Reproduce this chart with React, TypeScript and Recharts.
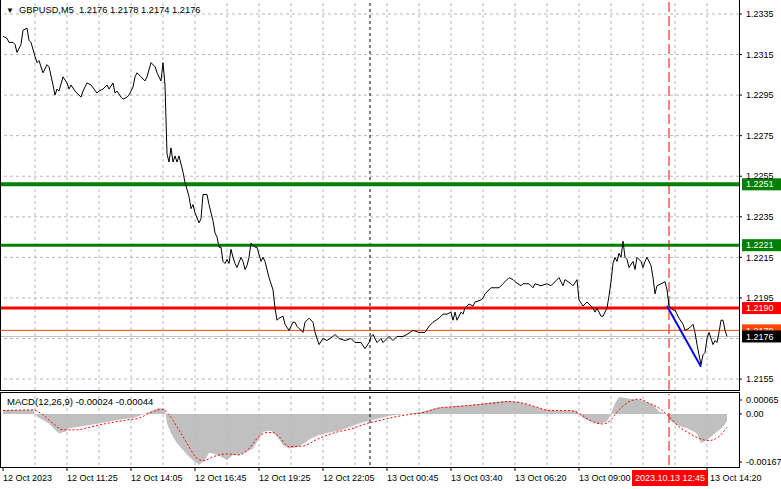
import React from 'react';
import { LineChart, Line, XAxis, YAxis, ReferenceLine, ComposedChart, Area } from 'recharts';

const FONT = "'Liberation Sans', Arial, sans-serif";

// ---- price series (bar index, close) ----
const barIdx = [
  0, 2, 3, 5, 6, 7, 9, 10, 12, 13, 14, 16, 17, 18, 20, 22, 23, 25, 26, 27, 28, 30, 32, 33, 34, 36, 37, 39, 40, 42, 44, 47, 48, 50, 52, 53, 55, 56, 57, 59, 60, 62, 63, 65, 66, 67, 69, 71, 72, 74, 76, 77, 79, 80, 81, 82,
  83, 84, 85, 86, 87, 88, 90, 91, 93, 94, 95, 96, 98, 99, 100, 102, 103, 105, 106, 107, 108, 109, 110, 111, 112, 113, 114, 115, 116, 117, 119, 120, 121, 122, 123, 124, 126, 127, 129, 130, 131, 133, 135, 136, 137, 138, 140, 141, 143, 145, 146, 147, 150, 151, 153, 155, 156, 158, 160, 162, 165, 166, 168, 171, 174, 176, 179, 181, 183, 184, 185, 187, 189, 190, 193, 195, 197, 200, 202, 205, 208, 211, 213, 215, 218, 220, 222, 224, 225, 226, 227, 229, 230, 231, 233, 235, 236, 239, 240, 241, 244, 245, 248, 251, 253, 255, 256, 259, 260, 263, 265, 266, 269, 272, 274, 276, 278, 280, 281, 284, 285, 287, 288, 290, 292, 295, 296, 297, 299, 300, 302, 303, 304, 305, 306, 307, 308, 309, 310, 311, 312, 313, 315, 316, 317, 319, 320, 321, 322, 324, 325, 326, 327, 329, 331, 332, 333, 335, 336, 338, 340, 341, 343, 344, 345, 346, 347, 349, 350, 351, 352, 353, 355, 356, 357, 358, 359, 360, 361, 362,
];
const closes = [
  1.2324, 1.2323, 1.2321, 1.2321, 1.2320, 1.2316, 1.2320, 1.2327, 1.2328, 1.2322, 1.2321, 1.2314, 1.2311, 1.2312, 1.2306, 1.2310, 1.2309, 1.2300, 1.2295, 1.2298, 1.2297, 1.2304, 1.2301, 1.2298, 1.2300, 1.2297, 1.2296, 1.2294, 1.2297, 1.2301, 1.2300, 1.2296, 1.2297, 1.2298, 1.2300, 1.2298, 1.2301, 1.2296, 1.2297, 1.2294, 1.2293, 1.2294, 1.2295, 1.2299, 1.2304, 1.2306, 1.2304, 1.2302, 1.2304, 1.2311, 1.2309, 1.2306, 1.2302, 1.2311, 1.2300, 1.2266,
  1.2262, 1.2269, 1.2262, 1.2265, 1.2262, 1.2265, 1.2257, 1.2252, 1.2245, 1.2239, 1.2241, 1.2237, 1.2232, 1.2234, 1.2246, 1.2246, 1.2241, 1.2233, 1.2227, 1.2225, 1.2220, 1.2220, 1.2213, 1.2212, 1.2214, 1.2212, 1.2219, 1.2215, 1.2212, 1.2210, 1.2215, 1.2213, 1.2209, 1.2211, 1.2215, 1.2222, 1.2220, 1.2220, 1.2213, 1.2215, 1.2213, 1.2205, 1.2199, 1.2190, 1.2184, 1.2185, 1.2186, 1.2182, 1.2179, 1.2183, 1.2183, 1.2181, 1.2178, 1.2183, 1.2185, 1.2183, 1.2178, 1.2172, 1.2175, 1.2174, 1.2176, 1.2177, 1.2175, 1.2174, 1.2175, 1.2173, 1.2173, 1.2170, 1.2173, 1.2176, 1.2177, 1.2173, 1.2175, 1.2173, 1.2176, 1.2174, 1.2176, 1.2176, 1.2177, 1.2179, 1.2178, 1.2178, 1.2181, 1.2183, 1.2185, 1.2187, 1.2187, 1.2188, 1.2184, 1.2188, 1.2184, 1.2188, 1.2187, 1.2190, 1.2192, 1.2191, 1.2193, 1.2194, 1.2195, 1.2197, 1.2200, 1.2200, 1.2200, 1.2203, 1.2205, 1.2204, 1.2203, 1.2201, 1.2202, 1.2202, 1.2200, 1.2202, 1.2201, 1.2202, 1.2201, 1.2203, 1.2205, 1.2201, 1.2204, 1.2202, 1.2201, 1.2204, 1.2194, 1.2191, 1.2193, 1.2190, 1.2188, 1.2190, 1.2186, 1.2186, 1.2190, 1.2196, 1.2203, 1.2212, 1.2215, 1.2213, 1.2217, 1.2215, 1.2223, 1.2215, 1.2214, 1.2210, 1.2213, 1.2209, 1.2215, 1.2213, 1.2210, 1.2213, 1.2215, 1.2211, 1.2205, 1.2197, 1.2201, 1.2202, 1.2203, 1.2199, 1.2191, 1.2189, 1.2189, 1.2185, 1.2182, 1.2179, 1.2180, 1.2181, 1.2182, 1.2178, 1.2172, 1.2162, 1.2167, 1.2168, 1.2175, 1.2178, 1.2172, 1.2174, 1.2173, 1.2178, 1.2184, 1.2184, 1.2179, 1.2176,
];

// ---- MACD histogram and signal ----
const macdIdx = [0, 15, 17, 20, 23, 26, 28, 31, 33, 38, 43, 48, 53, 60, 65, 68, 72, 75, 78, 81, 82, 84, 87, 90, 93, 96, 98, 101, 103, 106, 109, 112, 115, 118, 122, 125, 127, 130, 134, 137, 140, 143, 147, 151, 154, 158, 163, 168, 173, 178, 183, 188, 193, 202, 210, 218, 227, 235, 243, 252, 257, 263, 270, 277, 287, 288, 290, 293, 298, 302, 304, 306, 308, 312, 315, 320, 325, 328, 332, 333, 337, 342, 347, 349, 353, 357, 360, 362];
const macdVal = [0.00013, 0.00013, -0.00009, -0.0002, -0.00031, -0.00052, -0.00063, -0.00058, -0.00047, -0.00042, -0.00036, -0.00031, -0.00025, -0.00017, -0.00014, -0.00007, 0.00004, 0.00011, 0.00019, 0.00015, -0.00031, -0.00063, -0.00096, -0.00118, -0.0014, -0.00156, -0.00167, -0.00151, -0.00127, -0.00131, -0.0014, -0.00151, -0.00134, -0.00134, -0.00124, -0.00113, -0.00091, -0.00058, -0.00055, -0.00074, -0.00102, -0.00113, -0.00109, -0.00094, -0.0008, -0.00069, -0.00061, -0.00055, -0.00044, -0.00031, -0.00022, -0.00014, -0.00006, 0.0, 0.00008, 0.00022, 0.00026, 0.0003, 0.00037, 0.00043, 0.0004, 0.0003, 0.00015, 0.00011, 0.00011, 0.0, -0.00014, -0.00022, -0.00033, -0.00025, 0.0, 0.00035, 0.00055, 0.00051, 0.00048, 0.00044, 0.0003, 0.00008, 0.0, -0.0002, -0.00036, -0.00047, -0.00063, -0.00096, -0.0008, -0.00058, -0.00042, -0.00024];
const sigIdx = [0, 15, 20, 25, 30, 37, 43, 52, 62, 68, 75, 80, 83, 87, 92, 97, 100, 105, 112, 118, 123, 128, 132, 135, 138, 143, 150, 157, 165, 175, 182, 188, 193, 202, 210, 218, 227, 237, 245, 253, 260, 267, 273, 283, 288, 293, 300, 303, 308, 313, 318, 323, 328, 333, 338, 343, 348, 353, 358, 362];
const sigVal = [0.00011, 0.00013, -0.00003, -0.00031, -0.00052, -0.00052, -0.00044, -0.00031, -0.0002, -0.00014, 0.00008, 0.00015, -0.00003, -0.00042, -0.00096, -0.00145, -0.00153, -0.0014, -0.00131, -0.00134, -0.00113, -0.00074, -0.00061, -0.00061, -0.00074, -0.00107, -0.00105, -0.00083, -0.00063, -0.00047, -0.00031, -0.00022, -0.00014, -0.00003, 0.00004, 0.00019, 0.00024, 0.0003, 0.00035, 0.0004, 0.00035, 0.00022, 0.00011, 0.00011, 0.00002, -0.0002, -0.00033, -0.00025, 0.00013, 0.0004, 0.00048, 0.00035, 0.00019, -0.00009, -0.00042, -0.00063, -0.0008, -0.00087, -0.00074, -0.00044];

// ---- axes / levels ----
const priceGridTicks = [1.2155, 1.2175, 1.2195, 1.2215, 1.2235, 1.2255, 1.2275, 1.2295, 1.2315, 1.2335];
const priceLabelTicks = [1.2155, 1.2195, 1.2215, 1.2235, 1.2255, 1.2275, 1.2295, 1.2315, 1.2335];
const macdTicks = [-0.00167, 0, 0.00065];
const gridIdx = [16, 32, 48, 64, 80, 96, 112, 128, 144, 160, 176, 192, 208, 224, 240, 256, 272, 288, 304, 320, 336, 352];
const xTickIdx = [0, 32, 64, 96, 128, 160, 192, 224, 256, 288, 352];
const xTickLabels = ['12 Oct 2023', '12 Oct 11:25', '12 Oct 14:05', '12 Oct 16:45', '12 Oct 19:25', '12 Oct 22:05', '13 Oct 00:45', '13 Oct 03:40', '13 Oct 06:20', '13 Oct 09:00', '13 Oct 14:20'];
const levelVals = [1.2251, 1.2221, 1.219];
const levelLabels = ['1.2251', '1.2221', '1.2190'];
const askPrice = 1.2179;
const bidPrice = 1.2176;
const daySepIdx = 183.5;
const markIdx = 333;
const markLabel = '2023.10.13 12:45';
const trendIdx = [332, 349];
const trendVal = [1.2191, 1.2161];

// styles (kept apart from data)
const levelStyles = [
  { color: '#008000', width: 4 },
  { color: '#008000', width: 3 },
  { color: '#ff0000', width: 3 },
];
const GRID = '#b8b8b8';

const priceData = barIdx.map((i, k) => ({ i, c: closes[k] }));
const macdData = macdIdx.map((i, k) => ({ i, v: macdVal[k] }));
const sigData = sigIdx.map((i, k) => ({ i, s: sigVal[k] }));

const X_DOMAIN: [number, number] = [-1, 368];
const P_DOMAIN: [number, number] = [1.21496, 1.23414];

const PriceBox = (props: any) => {
  const { viewBox, text, bg } = props;
  if (!viewBox) return null;
  const { x, y, width } = viewBox;
  return (
    <g>
      <rect x={x + width + 3} y={y - 6} width={39} height={12} fill={bg} />
      <text x={x + width + 7} y={y} dy="0.35em" fill="#fff" fontSize={9} fontFamily={FONT}>{text}</text>
    </g>
  );
};

const XTick = (props: any) => {
  const { x, y, payload } = props;
  const v = payload.value;
  if (v === markIdx) {
    return (
      <g>
        <rect x={x - 37} y={y + 5} width={76} height={16} fill="#ff0000" />
        <text x={x + 1} y={y + 16} textAnchor="middle" fill="#fff" fontSize={9} fontFamily={FONT}>{markLabel}</text>
      </g>
    );
  }
  const k = xTickIdx.indexOf(v);
  return (
    <g>
      <line x1={x} x2={x} y1={y + 2} y2={y + 6} stroke="#000" />
      <text x={v === 352 ? x + 3 : x} y={y + 16} textAnchor="start" fill="#000" fontSize={9} fontFamily={FONT}>{xTickLabels[k]}</text>
    </g>
  );
};

const MacdTick = (props: any) => {
  const { x, y, payload } = props;
  const v = payload.value;
  const off = v > 0 ? 6 : v < 0 ? -3 : 0;
  const txt = v === 0 ? '0.00' : v.toFixed(5);
  return (
    <g>
      <line x1={x} x2={x + 3} y1={y + off} y2={y + off} stroke="#000" />
      <text x={x + 7} y={y + off} dy="0.35em" fill="#000" fontSize={9} fontFamily={FONT}>{txt}</text>
    </g>
  );
};

export default function App() {
  return (
    <div style={{ position: 'absolute', left: 0, top: 0, width: 781, height: 489, background: '#fff', fontFamily: FONT, overflow: 'hidden' }}>
      <div style={{ position: 'absolute', left: 0, top: 0 }}>
        <LineChart width={781} height={391} data={priceData} margin={{ top: 1, right: 0, bottom: 1, left: 1 }}>
          <XAxis dataKey="i" type="number" domain={X_DOMAIN} allowDataOverflow hide />
          <YAxis
            orientation="right"
            width={42}
            domain={P_DOMAIN}
            allowDataOverflow
            ticks={priceLabelTicks}
            interval={0}
            axisLine={false}
            tickSize={3}
            tickMargin={4}
            tickLine={{ stroke: '#000' }}
            tick={{ fill: '#000', fontSize: 9, fontFamily: FONT }}
            tickFormatter={(v: number) => v.toFixed(4)}
          />
          {priceGridTicks.map((p) => (
            <ReferenceLine key={'h' + p} y={p} stroke={GRID} strokeDasharray="3 3" />
          ))}
          {gridIdx.map((g) => (
            <ReferenceLine key={'v' + g} x={g} stroke={GRID} strokeDasharray="3 3" />
          ))}
          <ReferenceLine x={daySepIdx} stroke="#000" strokeDasharray="3 3" />
          <ReferenceLine x={markIdx} stroke="#ff0000" strokeDasharray="10 4" />
          <ReferenceLine y={bidPrice} stroke="#c0c0c0" strokeWidth={1} />
          <ReferenceLine y={askPrice} stroke="#ff4500" strokeWidth={1} label={(p: any) => <PriceBox {...p} text={askPrice.toFixed(4)} bg="#ff4500" />} />
          {levelVals.map((lv, k) => (
            <ReferenceLine
              key={'l' + lv}
              y={lv}
              stroke={levelStyles[k].color}
              strokeWidth={levelStyles[k].width}
              label={(p: any) => <PriceBox {...p} text={levelLabels[k]} bg={levelStyles[k].color} />}
            />
          ))}
          <Line dataKey="c" type="linear" stroke="#000" strokeWidth={1} dot={false} activeDot={false} isAnimationActive={false} />
          <ReferenceLine
            segment={[{ x: trendIdx[0], y: trendVal[0] }, { x: trendIdx[1], y: trendVal[1] }]}
            stroke="#0000ff"
            strokeWidth={2}
          />
          <ReferenceLine y={bidPrice} stroke="none" label={(p: any) => <PriceBox {...p} text={bidPrice.toFixed(4)} bg="#000" />} />
        </LineChart>
      </div>
      <div style={{ position: 'absolute', left: 0, top: 392 }}>
        <ComposedChart width={781} height={97} margin={{ top: 2, right: 0, bottom: 0, left: 1 }}>
          <XAxis
            dataKey="i"
            type="number"
            domain={X_DOMAIN}
            allowDataOverflow
            ticks={[...xTickIdx, markIdx]}
            interval={0}
            height={24}
            axisLine={false}
            tickLine={false}
            tickSize={0}
            tickMargin={0}
            tick={<XTick />}
          />
          <YAxis
            orientation="right"
            width={42}
            domain={[-0.00167, 0.00065]}
            allowDataOverflow
            ticks={macdTicks}
            interval={0}
            axisLine={false}
            tickLine={false}
            tickSize={0}
            tickMargin={0}
            tick={<MacdTick />}
          />
          {gridIdx.map((g) => (
            <ReferenceLine key={'mv' + g} x={g} stroke={GRID} strokeDasharray="3 3" />
          ))}
          <Area data={macdData} dataKey="v" type="linear" baseValue={0} fill="#c0c0c0" fillOpacity={1} stroke="none" dot={false} activeDot={false} isAnimationActive={false} />
          <Line data={sigData} dataKey="s" type="monotone" stroke="#ff0000" strokeWidth={1} strokeDasharray="2 2" dot={false} activeDot={false} isAnimationActive={false} />
          <ReferenceLine x={daySepIdx} stroke="#000" strokeDasharray="3 3" />
          <ReferenceLine x={markIdx} stroke="#ff0000" strokeDasharray="10 4" />
        </ComposedChart>
      </div>
      {/* panel frames */}
      <div style={{ position: 'absolute', left: 0, top: 0, width: 740, height: 391, boxSizing: 'border-box', borderLeft: '1px solid #000', borderRight: '1px solid #000', borderBottom: '1px solid #000', pointerEvents: 'none' }} />
      <div style={{ position: 'absolute', left: 0, top: 392, width: 740, height: 76, boxSizing: 'border-box', border: '1px solid #000', pointerEvents: 'none' }} />
      {/* titles */}
      <div style={{ position: 'absolute', left: 6, top: 4, fontSize: 9.3, color: '#000', whiteSpace: 'pre', lineHeight: '12px' }}>
        <span style={{ fontSize: 8 }}>▼</span>{'  GBPUSD,M5  1.2176 1.2178 1.2174 1.2176'}
      </div>
      <div style={{ position: 'absolute', left: 7, top: 396, fontSize: 9.5, color: '#000', whiteSpace: 'pre', lineHeight: '12px' }}>
        {'MACD(12,26,9) -0.00024 -0.00044'}
      </div>
    </div>
  );
}
